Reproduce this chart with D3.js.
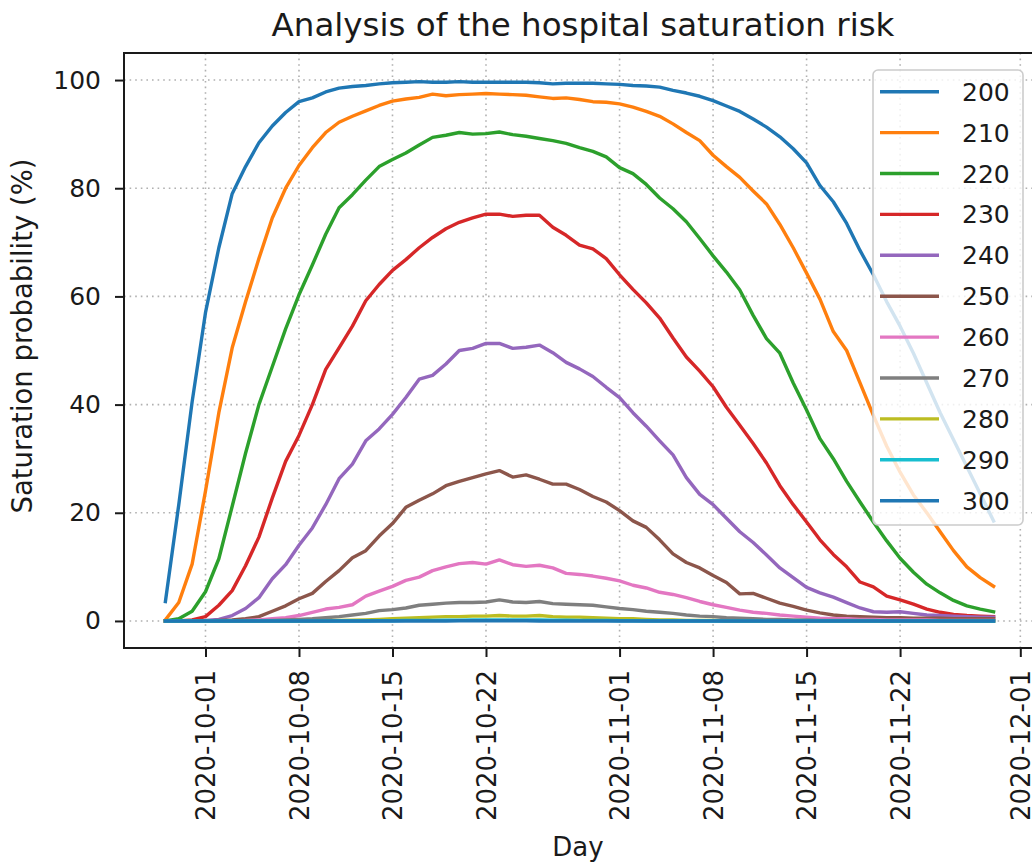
<!DOCTYPE html>
<html>
<head>
<meta charset="utf-8">
<script src="https://cdn.jsdelivr.net/npm/d3@7"></script>
<style>
  html, body { margin: 0; padding: 0; background: #fff; overflow: hidden; }
  svg { display: block; }
  text { font-family: "DejaVu Sans", sans-serif; fill: #1a1a1a; }
</style>
</head>
<body>
<svg id="chart" width="1032" height="864"></svg>
<script>
// Daily saturation probability (%) per hospital capacity, starting 2020-09-28
const startDate = "2020-09-28";
const capacities = [200, 210, 220, 230, 240, 250, 260, 270, 280, 290, 300];

const p200 = [3.6, 21.5, 40.5, 57, 69, 79, 84, 88.4, 91.5, 94, 96, 96.7, 97.8, 98.5, 98.8, 99.0, 99.3, 99.5, 99.6, 99.7,
  99.6, 99.6, 99.7, 99.6, 99.6, 99.6, 99.6, 99.6, 99.5, 99.3, 99.4, 99.4, 99.4, 99.3, 99.2, 99.0, 98.9, 98.7, 98.1, 97.6,
  97.0, 96.2, 95.2, 94.2, 92.8, 91.3, 89.5, 87.3, 84.7, 80.5, 77.5, 73.5, 68.5, 64, 59, 54.5, 49.5, 44, 38.5, 33.5,
  28.5, 23.5, 18.5];
const p210 = [0.2, 3.4, 10.5, 24, 38.5, 50.5, 59, 67, 74.5, 80, 84.2, 87.5, 90.3, 92.2, 93.3, 94.3, 95.3, 96.1, 96.5, 96.8,
  97.4, 97.1, 97.3, 97.4, 97.5, 97.4, 97.3, 97.2, 96.9, 96.6, 96.7, 96.4, 96.0, 95.9, 95.6, 95.0, 94.2, 93.3, 91.9, 90.3,
  88.8, 86.1, 84.0, 82.0, 79.5, 77.1, 73.3, 69, 64.3, 59.5, 53.5, 50, 44, 38, 32.3, 27.5, 23.3, 20, 16.5, 13,
  10, 8.0, 6.4];
const p220 = [0, 0.4, 1.8, 5.4, 11.5, 21.2, 31, 40, 47, 54, 60.3, 65.8, 71.5, 76.4, 78.8, 81.5, 84, 85.3, 86.5, 88,
  89.4, 89.8, 90.3, 90.0, 90.1, 90.4, 89.9, 89.6, 89.2, 88.8, 88.3, 87.5, 86.8, 85.8, 83.8, 82.7, 80.7, 78.2, 76.2, 73.8,
  70.7, 67.5, 64.5, 61.2, 56.5, 52.2, 49.5, 44, 39, 33.7, 30, 25.8, 22, 18.3, 14.8, 11.6, 9, 6.8, 5.2, 3.8,
  2.8, 2.2, 1.7];
const p230 = [0, 0, 0.2, 0.8, 2.9, 5.6, 10.2, 15.5, 22.7, 29.5, 34.3, 40, 46.5, 50.5, 54.5, 59.2, 62.2, 64.8, 66.8, 69,
  70.9, 72.5, 73.7, 74.5, 75.2, 75.2, 74.8, 75.0, 75.0, 72.8, 71.3, 69.5, 68.8, 67, 64, 61.3, 58.8, 56, 52.3, 48.8,
  46.2, 43.3, 39.5, 36.2, 32.8, 29.2, 25, 21.5, 18.3, 15, 12.3, 10, 7.2, 6.3, 4.6, 3.9, 3.1, 2.2, 1.6, 1.2,
  1.0, 0.9, 0.8];
const p240 = [0, 0, 0, 0.1, 0.3, 1, 2.3, 4.3, 7.8, 10.4, 14, 17.2, 21.5, 26.3, 29, 33.3, 35.5, 38.2, 41.3, 44.7,
  45.4, 47.5, 50, 50.4, 51.3, 51.3, 50.4, 50.6, 51, 49.6, 47.8, 46.6, 45.2, 43.2, 41.3, 38.5, 36, 33.3, 30.7, 26.5,
  23.4, 21.5, 19, 16.5, 14.5, 12.2, 9.8, 8, 6.2, 5.2, 4.4, 3.4, 2.4, 1.7, 1.6, 1.7, 1.4, 1.1, 1.0, 0.9,
  0.8, 0.7, 0.7];
const p250 = [0, 0, 0, 0, 0.1, 0.2, 0.4, 0.8, 1.8, 2.8, 4.1, 5.1, 7.3, 9.3, 11.7, 13, 15.7, 18, 21, 22.3,
  23.5, 25, 25.8, 26.5, 27.2, 27.8, 26.6, 27.0, 26.2, 25.3, 25.3, 24.3, 23, 22, 20.4, 18.5, 17.3, 15, 12.4, 10.8,
  9.8, 8.4, 7.1, 5, 5.1, 4.2, 3.3, 2.7, 2, 1.5, 1.1, 0.9, 0.8, 0.7, 0.6, 0.6, 0.5, 0.5, 0.5, 0.4,
  0.4, 0.4, 0.4];
const p260 = [0, 0, 0, 0, 0, 0, 0.1, 0.2, 0.4, 0.6, 1.0, 1.6, 2.2, 2.5, 3.0, 4.6, 5.5, 6.4, 7.5, 8.1,
  9.3, 10.0, 10.6, 10.8, 10.5, 11.3, 10.4, 10.1, 10.3, 9.8, 8.8, 8.6, 8.3, 7.9, 7.4, 6.6, 6.1, 5.3, 4.9, 4.3,
  3.6, 3.0, 2.5, 2.0, 1.6, 1.4, 1.1, 0.9, 0.7, 0.5, 0.4, 0.4, 0.3, 0.3, 0.2, 0.2, 0.2, 0.2, 0.1, 0.1,
  0.1, 0.1, 0.1];
const p270 = [0, 0, 0, 0, 0, 0, 0, 0.05, 0.1, 0.2, 0.3, 0.4, 0.6, 0.8, 1.1, 1.4, 1.9, 2.1, 2.4, 2.9,
  3.1, 3.3, 3.4, 3.4, 3.5, 3.9, 3.5, 3.4, 3.6, 3.2, 3.1, 3.0, 2.9, 2.6, 2.3, 2.1, 1.8, 1.6, 1.4, 1.1,
  0.9, 0.8, 0.6, 0.5, 0.4, 0.3, 0.3, 0.2, 0.2, 0.1, 0.1, 0.1, 0.1, 0.1, 0, 0, 0, 0, 0, 0,
  0, 0, 0];
const p280 = [0, 0, 0, 0, 0, 0, 0, 0, 0, 0, 0, 0, 0.05, 0.1, 0.15, 0.2, 0.3, 0.4, 0.5, 0.6,
  0.7, 0.8, 0.8, 0.9, 0.9, 1.0, 0.9, 0.9, 1.0, 0.8, 0.7, 0.7, 0.6, 0.5, 0.4, 0.4, 0.3, 0.2, 0.2, 0.1,
  0.1, 0.1, 0, 0, 0, 0, 0, 0, 0, 0, 0, 0, 0, 0, 0, 0, 0, 0, 0, 0,
  0, 0, 0];
const p290 = [0, 0, 0, 0, 0, 0, 0, 0, 0, 0, 0, 0, 0, 0, 0, 0, 0.05, 0.05, 0.1, 0.1,
  0.1, 0.15, 0.15, 0.2, 0.2, 0.2, 0.2, 0.2, 0.2, 0.15, 0.15, 0.1, 0.1, 0.1, 0.05, 0.05, 0, 0, 0, 0,
  0, 0, 0, 0, 0, 0, 0, 0, 0, 0, 0, 0, 0, 0, 0, 0, 0, 0, 0, 0,
  0, 0, 0];
const p300 = [0, 0, 0, 0, 0, 0, 0, 0, 0, 0, 0, 0, 0, 0, 0, 0, 0, 0, 0, 0,
  0, 0, 0.05, 0.05, 0.05, 0.05, 0.05, 0.05, 0, 0, 0, 0, 0, 0, 0, 0, 0, 0, 0, 0,
  0, 0, 0, 0, 0, 0, 0, 0, 0, 0, 0, 0, 0, 0, 0, 0, 0, 0, 0, 0,
  0, 0, 0];

const yTicks = [0, 20, 40, 60, 80, 100];
const xTickLabels = ["2020-10-01", "2020-10-08", "2020-10-15", "2020-10-22", "2020-11-01",
  "2020-11-08", "2020-11-15", "2020-11-22", "2020-12-01"];
const palette = ["#1f77b4", "#ff7f0e", "#2ca02c", "#d62728", "#9467bd", "#8c564b",
  "#e377c2", "#7f7f7f", "#bcbd22", "#17becf", "#1f77b4"];

const values = [p200, p210, p220, p230, p240, p250, p260, p270, p280, p290, p300];

const parseDay = d3.utcParse("%Y-%m-%d");
const day0 = parseDay(startDate);
const days = p200.map((_, i) => d3.utcDay.offset(day0, i));
const series = capacities.map((c, i) => ({
  name: String(c),
  color: palette[i],
  points: values[i].map((v, j) => ({ date: days[j], value: v }))
}));

// Axes box
const boxL = 124, boxR = 1035, boxT = 53, boxB = 648;
const svg = d3.select("#chart");

const t0 = days[0].getTime(), t1 = days[days.length - 1].getTime();
const padT = (t1 - t0) * 0.05;
const x = d3.scaleUtc().domain([new Date(t0 - padT), new Date(t1 + padT)]).range([boxL, boxR]);
const y = d3.scaleLinear().domain([-5, 105]).range([boxB, boxT]);

const xTicks = xTickLabels.map(parseDay);

// Dotted grid
const grid = svg.append("g").attr("stroke", "#b0b0b0").attr("stroke-width", 1.6)
  .attr("stroke-dasharray", "1.6,4");
grid.selectAll("line.gx").data(xTicks).join("line")
  .attr("x1", d => x(d)).attr("x2", d => x(d)).attr("y1", boxT).attr("y2", boxB);
grid.selectAll("line.gy").data(yTicks).join("line")
  .attr("x1", boxL).attr("x2", boxR).attr("y1", d => y(d)).attr("y2", d => y(d));

// Series lines
const line = d3.line().x(d => x(d.date)).y(d => y(d.value));
svg.append("g").selectAll("path").data(series).join("path")
  .attr("fill", "none")
  .attr("stroke", d => d.color)
  .attr("stroke-width", 3.4)
  .attr("stroke-linejoin", "round")
  .attr("stroke-linecap", "square")
  .attr("d", d => line(d.points));

// Axes
const fmt = d3.utcFormat("%Y-%m-%d");
const xAxis = svg.append("g").attr("transform", `translate(0,${boxB})`)
  .call(d3.axisBottom(x).tickValues(xTicks).tickFormat(fmt).tickSize(9).tickSizeOuter(0));
xAxis.select(".domain").remove();
xAxis.selectAll(".tick line").attr("stroke", "#1a1a1a").attr("stroke-width", 2);
xAxis.selectAll(".tick text")
  .attr("font-size", 26)
  .attr("font-family", "DejaVu Sans")
  .attr("transform", "rotate(-90)")
  .attr("text-anchor", "end")
  .attr("x", -22).attr("y", 0).attr("dy", "0.36em");

const yAxis = svg.append("g").attr("transform", `translate(${boxL},0)`)
  .call(d3.axisLeft(y).tickValues(yTicks).tickSize(9).tickPadding(14).tickSizeOuter(0));
yAxis.select(".domain").remove();
yAxis.selectAll(".tick line").attr("stroke", "#1a1a1a").attr("stroke-width", 2);
yAxis.selectAll(".tick text").attr("font-size", 25).attr("font-family", "DejaVu Sans");

// Spines
const spines = svg.append("g").attr("stroke", "#1a1a1a").attr("stroke-width", 2).attr("fill", "none");
spines.append("rect").attr("x", boxL).attr("y", boxT).attr("width", boxR - boxL).attr("height", boxB - boxT);

// Titles
svg.append("text").attr("x", 583).attr("y", 36).attr("text-anchor", "middle")
  .attr("font-size", 32.5).text("Analysis of the hospital saturation risk");
svg.append("text").attr("x", 578).attr("y", 856).attr("text-anchor", "middle")
  .attr("font-size", 26).text("Day");
svg.append("text").attr("transform", "translate(32,336) rotate(-90)")
  .attr("text-anchor", "middle").attr("font-size", 27.5).text("Saturation probability (%)");

// Legend
const lg = svg.append("g").attr("transform", "translate(873,70)");
lg.append("rect").attr("width", 150).attr("height", 455).attr("rx", 5)
  .attr("fill", "#fff").attr("fill-opacity", 0.8).attr("stroke", "#cccccc").attr("stroke-width", 1.6);
const item = lg.selectAll("g.item").data(series).join("g")
  .attr("transform", (d, i) => `translate(0,${21.7 + i * 40.9})`);
item.append("line").attr("x1", 7).attr("x2", 66).attr("y1", 0).attr("y2", 0)
  .attr("stroke", d => d.color).attr("stroke-width", 3.4);
item.append("text").attr("x", 89).attr("y", 0).attr("dy", "0.36em")
  .attr("font-size", 25).text(d => d.name);
</script>
</body>
</html>
